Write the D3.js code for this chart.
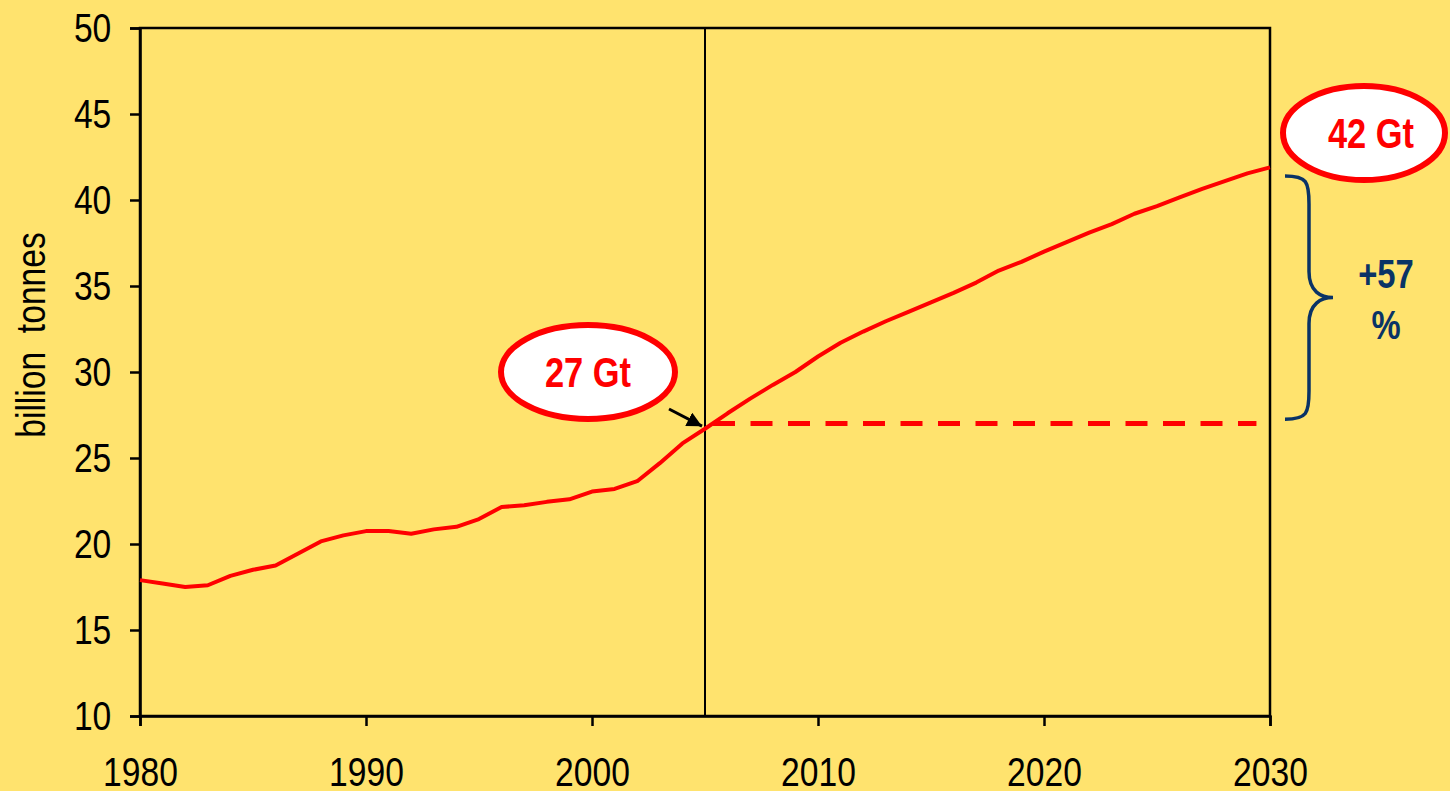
<!DOCTYPE html>
<html>
<head>
<meta charset="utf-8">
<script src="https://cdn.jsdelivr.net/npm/d3@7.9.0/dist/d3.min.js"></script>
<style>
  html, body { margin: 0; padding: 0; background: #FFE36E; }
  svg { display: block; }
  text { font-family: "Liberation Sans Narrow", "Arial Narrow", "Liberation Sans", Arial, sans-serif; }
</style>
</head>
<body>
<svg id="chart" width="1450" height="791"></svg>
<script>
// Emissions, billion tonnes
const years = d3.range(1980, 2031);
const emissions = [
  17.9, 17.7, 17.5, 17.6, 18.15, 18.5, 18.75, 19.45, 20.15, 20.5,
  20.75, 20.75, 20.6, 20.85, 21.0, 21.45, 22.15, 22.25, 22.45, 22.6,
  23.05, 23.2, 23.65, 24.7, 25.85, 26.7, 27.6, 28.45, 29.25, 30.0,
  30.9, 31.7, 32.35, 32.95, 33.5, 34.05, 34.6, 35.2, 35.9, 36.4,
  37.0, 37.55, 38.1, 38.6, 39.2, 39.65, 40.15, 40.65, 41.1, 41.55,
  41.9
];
const xTicks = [1980, 1990, 2000, 2010, 2020, 2030];
const yTicks = [10, 15, 20, 25, 30, 35, 40, 45, 50];
const baseYear = 2005;
const baseValue = 27;
const labelStart = "27 Gt";
const labelEnd = "42 Gt";
const growthLabel = ["+57", "%"];

// no narrow font installed -> squeeze regular sans horizontally
const narrow = 'scale(0.82,1)';

const svg = d3.select('#chart');

const x = d3.scaleLinear().domain([1980, 2030]).range([140, 1270]);
const y = d3.scaleLinear().domain([10, 50]).range([716, 28]);

// frame
svg.append('rect')
  .attr('x', x(1980)).attr('y', y(50))
  .attr('width', x(2030) - x(1980)).attr('height', y(10) - y(50))
  .attr('fill', 'none').attr('stroke', '#000').attr('stroke-width', 2.5);

// axes
const xAxis = svg.append('g')
  .attr('transform', `translate(0,${y(10)})`)
  .call(d3.axisBottom(x).tickValues(xTicks).tickFormat(d3.format('d')).tickSize(10).tickPadding(31));
const yAxis = svg.append('g')
  .attr('transform', `translate(${x(1980)},0)`)
  .call(d3.axisLeft(y).tickValues(yTicks).tickSize(10).tickPadding(25));

[xAxis, yAxis].forEach(g => {
  g.select('.domain').attr('stroke', '#000').attr('stroke-width', 2.5);
  g.selectAll('.tick line').attr('stroke', '#000').attr('stroke-width', 2.5);
  g.selectAll('.tick text')
    .attr('fill', '#000')
    .attr('transform', narrow)
    .style('font-family', '"Liberation Sans Narrow", "Arial Narrow", "Liberation Sans", Arial, sans-serif')
    .style('font-size', '41px');
});
xAxis.selectAll('.tick text').attr('dy', '0.71em');

// axis title
svg.append('text')
  .attr('transform', `translate(45,335) rotate(-90) ${narrow}`)
  .attr('text-anchor', 'middle')
  .style('font-size', '41px')
  .style('white-space', 'pre')
  .text('billion  tonnes');

// 2005 vertical marker
svg.append('line')
  .attr('x1', x(baseYear)).attr('x2', x(baseYear))
  .attr('y1', y(50)).attr('y2', y(10))
  .attr('stroke', '#000').attr('stroke-width', 2);

// baseline dashed
svg.append('line')
  .attr('x1', x(baseYear) + 8).attr('x2', x(2029.4))
  .attr('y1', y(baseValue)).attr('y2', y(baseValue))
  .attr('stroke', '#FF0000').attr('stroke-width', 5)
  .attr('stroke-dasharray', '22 15.5');

// emissions line
const line = d3.line().x((d, i) => x(years[i])).y(d => y(d));
svg.append('path')
  .datum(emissions)
  .attr('d', line)
  .attr('fill', 'none')
  .attr('stroke', '#FF0000')
  .attr('stroke-width', 4)
  .attr('stroke-linejoin', 'round');

// arrow to 2005 point
svg.append('defs').append('marker')
  .attr('id', 'head')
  .attr('viewBox', '0 0 10 10')
  .attr('refX', 10).attr('refY', 5)
  .attr('markerWidth', 5).attr('markerHeight', 5)
  .attr('markerUnits', 'strokeWidth')
  .attr('orient', 'auto')
  .append('path').attr('d', 'M0,0 L10,5 L0,10 z').attr('fill', '#000');

svg.append('line')
  .attr('x1', 669).attr('y1', 409)
  .attr('x2', x(baseYear) - 3).attr('y2', y(26.85))
  .attr('stroke', '#000').attr('stroke-width', 3)
  .attr('marker-end', 'url(#head)');

// labels in ellipses
function bubble(cx, cy, rx, ry, label, tx) {
  svg.append('ellipse')
    .attr('cx', cx).attr('cy', cy).attr('rx', rx).attr('ry', ry)
    .attr('fill', '#fff').attr('stroke', '#FF0000').attr('stroke-width', 6);
  svg.append('text')
    .attr('transform', `translate(${tx},${cy}) ${narrow}`)
    .attr('dy', '0.36em')
    .attr('text-anchor', 'middle')
    .attr('fill', '#FF0000')
    .style('font-size', '42px')
    .style('font-weight', 'bold')
    .text(label);
}
bubble(588, 372, 87, 47, labelStart, 588);
bubble(1364, 133, 81, 47, labelEnd, 1371);

// brace
const bx0 = 1285, bx1 = 1309, bx2 = 1333;
const bTop = y(41.4), bBot = y(27.25), bMid = (bTop + bBot) / 2;
svg.append('path')
  .attr('d', `M${bx0},${bTop} C${bx0 + 22},${bTop} ${bx1},${bTop + 6} ${bx1},${bTop + 28}
    L${bx1},${bMid - 26} C${bx1},${bMid - 6} ${bx1 + 12},${bMid} ${bx2},${bMid}
    C${bx1 + 12},${bMid} ${bx1},${bMid + 6} ${bx1},${bMid + 26}
    L${bx1},${bBot - 28} C${bx1},${bBot - 6} ${bx0 + 22},${bBot} ${bx0},${bBot}`)
  .attr('fill', 'none').attr('stroke', '#0A3366').attr('stroke-width', 3.5);

svg.selectAll('.growth')
  .data(growthLabel)
  .enter()
  .append('text')
  .attr('class', 'growth')
  .attr('transform', (d, i) => `translate(1386,${288 + i * 51}) ${narrow}`)
  .attr('text-anchor', 'middle')
  .attr('fill', '#0A3366')
  .style('font-size', '40px')
  .style('font-weight', 'bold')
  .text(d => d);
</script>
</body>
</html>
